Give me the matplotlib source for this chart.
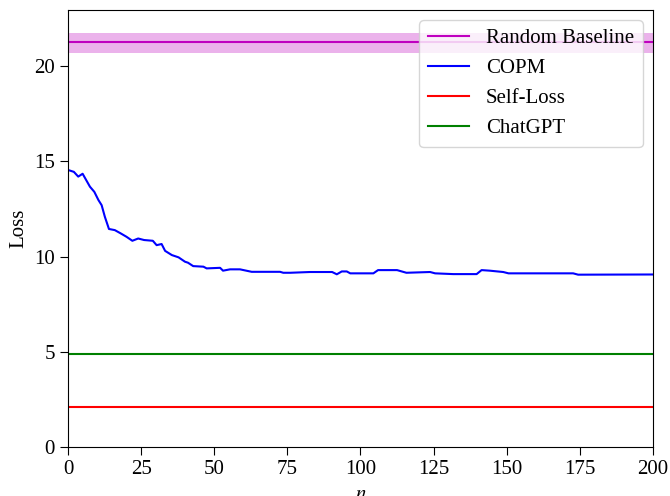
import matplotlib
matplotlib.use("Agg")
import matplotlib.pyplot as plt

plt.rcParams['font.family'] = ['Liberation Serif', 'DejaVu Serif']
plt.rcParams['mathtext.fontset'] = 'stix'
plt.rcParams['font.size'] = 15

# COPM loss vs n
copm_n = [0, 1, 2, 3.5, 5, 7.5, 9, 10.4, 11.5, 12.6, 14, 16, 18, 20, 22, 24, 26, 29,
          30.3, 32, 33.2, 35.5, 37.8, 40, 41, 42.8, 46.3, 47.4, 52, 53, 55.4, 58.8,
          62.8, 72.5, 73.6, 76, 82.7, 90.3, 91.9, 93.6, 95.3, 96.5, 104.4, 106,
          112.5, 115.7, 123.8, 125.5, 131.7, 139.7, 141.4, 144.2, 148.8, 150.6,
          172.7, 174.4, 200]
copm_loss = [14.55, 14.5, 14.45, 14.2, 14.35, 13.67, 13.4, 12.97, 12.7, 12.09, 11.45,
             11.39, 11.22, 11.04, 10.83, 10.95, 10.87, 10.83, 10.6, 10.66, 10.3, 10.08,
             9.96, 9.73, 9.68, 9.5, 9.47, 9.38, 9.41, 9.26, 9.33, 9.33, 9.2, 9.2, 9.15,
             9.15, 9.19, 9.19, 9.07, 9.22, 9.22, 9.12, 9.12, 9.29, 9.29, 9.15, 9.19,
             9.12, 9.08, 9.08, 9.29, 9.26, 9.19, 9.12, 9.12, 9.05, 9.06]

random_mean = 21.26
random_low = 20.7
random_high = 21.74
self_loss = 2.08
chatgpt = 4.87

fig = plt.figure(figsize=(6.7, 4.96), dpi=100)
ax = fig.add_axes([68/670, 1 - 447/496, (653 - 68)/670, (447 - 10)/496])

ax.axhspan(random_low, random_high, color='m', alpha=0.3, lw=0)
ax.axhline(random_mean, color='m', label='Random Baseline')
ax.plot(copm_n, copm_loss, color='b', label='COPM')
ax.axhline(self_loss, color='r', label='Self-Loss')
ax.axhline(chatgpt, color='g', label='ChatGPT')

ax.set_xlim(0, 200)
ax.set_ylim(0, 22.95)
ax.set_xticks([0, 25, 50, 75, 100, 125, 150, 175, 200])
ax.set_yticks([0, 5, 10, 15, 20])
ax.tick_params(length=6)
ax.set_xlabel('$n$')
ax.set_ylabel('Loss')
ax.legend(loc='upper right')

fig.savefig('out.png', dpi=100)
